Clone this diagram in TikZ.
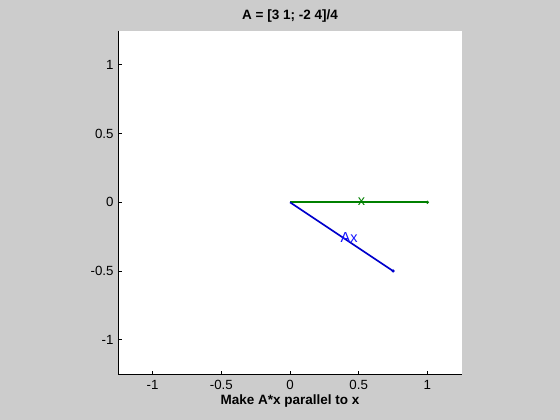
\documentclass[tikz,border=0pt]{standalone}
\usepackage{fontspec}
\setmainfont{Liberation Sans}
\definecolor{bggray}{RGB}{204,204,204}
\definecolor{mgreen}{RGB}{0,128,0}
\definecolor{mblue}{RGB}{0,0,204}
\definecolor{tblue}{RGB}{20,20,255}
\tikzset{
  ticklbl/.style={font=\fontsize{13.3}{15}\selectfont, inner sep=0pt},
  boldlbl/.style={font=\fontsize{13.5}{15}\selectfont\bfseries, inner sep=0pt},
  axisline/.style={black, line width=0.9pt},
  tickmark/.style={black, line width=0.8pt},
  vec/.style={line width=1.6pt},
  endmark/.style={circle, inner sep=0pt, minimum size=3.5pt},
  veclbl/.style={inner sep=0pt, font=\fontsize{14.5}{16}\selectfont},
}
\begin{document}
\begin{tikzpicture}[x=1pt,y=1pt]
\fill[bggray] (0,0) rectangle (560,420);
\useasboundingbox (0,0) rectangle (560,420);
\fill[white] (118.5,46) rectangle (461.5,389);
\node[boldlbl, anchor=base] (title) at (290,400.5) {A = [3 1; -2 4]/4};
\node[boldlbl, anchor=base] (xlab) at (290,15) {Make A*x parallel to x};
\begin{scope}[shift={(290,217.7)}, x=137.4pt, y=137.4pt]
  \coordinate (BL) at (-1.25,-1.25);
  \coordinate (TL) at (-1.25,1.25);
  \coordinate (BR) at (1.25,-1.25);
  \draw[axisline] (TL) -- (BL) -- (BR);
  \foreach \v/\t in {-1/-1,-0.5/-0.5,0/0,0.5/0.5,1/1} {
    \draw[tickmark] (\v,-1.25) -- ++(0,3.5pt);
    \draw[tickmark] (-1.25,\v) -- ++(3.5pt,0);
    \node[ticklbl, anchor=base] (xt\t) at ([yshift=-15pt]\v,-1.25) {\t};
    \node[ticklbl, anchor=east] (yt\t) at ([xshift=-4.5pt]-1.25,\v) {\t};
  }
  \coordinate (O) at (0,0);
  \node[endmark, fill=mgreen] (X) at (1,0) {};
  \node[endmark, fill=mblue] (AX) at (0.75,-0.5) {};
  \draw[vec, mgreen] (O) -- (X.center);
  \draw[vec, mblue] (O) -- (AX.center);
  \node[veclbl, text=mgreen] (xl) at (0.52,0.005) {x};
  \node[veclbl, text=tblue] (axl) at (0.43,-0.255) {Ax};
\end{scope}
\end{tikzpicture}
\end{document}
